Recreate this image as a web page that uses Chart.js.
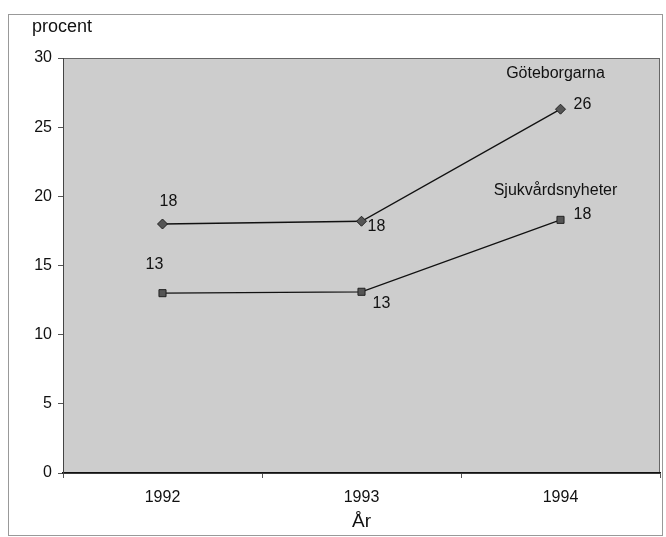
<!DOCTYPE html>
<html><head><meta charset="utf-8">
<script src="https://cdn.jsdelivr.net/npm/chart.js@4/dist/chart.umd.min.js"></script>
<style>html,body{margin:0;padding:0;background:#fff}#w{width:666px;height:537px}</style>
</head><body><div id="w"><canvas id="c" width="666" height="537"></canvas></div>
<script>
const years = ['1992', '1993', '1994'];
const goteborgarna = [18, 18.2, 26.3];
const sjukvard = [13, 13.1, 18.3];
const gotLabels = ['18', '18', '26'];
const sjukLabels = ['13', '13', '18'];
const yTicks = [0, 5, 10, 15, 20, 25, 30];

const F = 'Liberation Sans, Arial, sans-serif';

const deco = {
  id: 'deco',
  beforeDraw(chart) {
    const {ctx, chartArea: a} = chart;
    ctx.save();
    ctx.fillStyle = '#cdcdcd';
    ctx.fillRect(a.left, a.top, a.right - a.left, a.bottom - a.top);
    ctx.strokeStyle = '#666';
    ctx.lineWidth = 1;
    ctx.strokeRect(a.left + 0.5, a.top + 0.5, a.right - a.left - 1, a.bottom - a.top);
    ctx.strokeStyle = '#999';
    ctx.strokeRect(8.5, 14.5, 654, 521);
    ctx.restore();
  },
  afterDatasetsDraw(chart) {
    const {ctx} = chart;
    const x = chart.scales.x, y = chart.scales.y;
    ctx.save();
    ctx.fillStyle = '#111';
    ctx.font = '18px ' + F;
    ctx.textBaseline = 'middle';
    ctx.textAlign = 'left';
    ctx.fillText('procent', 32, 27);
    ctx.font = '16px ' + F;
    ctx.textAlign = 'center';
    const gOff = [[6, -22], [15, 5], [22, -5]];
    goteborgarna.forEach((v, i) => {
      const px = x.getPixelForValue(i), py = y.getPixelForValue(v);
      ctx.fillText(gotLabels[i], px + gOff[i][0], py + gOff[i][1]);
    });
    const sOff = [[-8, -29], [20, 12], [22, -5]];
    sjukvard.forEach((v, i) => {
      const px = x.getPixelForValue(i), py = y.getPixelForValue(v);
      ctx.fillText(sjukLabels[i], px + sOff[i][0], py + sOff[i][1]);
    });
    ctx.fillText('Göteborgarna', x.getPixelForValue(2) - 5, y.getPixelForValue(28.9));
    ctx.fillText('Sjukvårdsnyheter', x.getPixelForValue(2) - 5, y.getPixelForValue(20.4));
    ctx.restore();
  }
};

new Chart(document.getElementById('c'), {
  type: 'line',
  data: {
    labels: years,
    datasets: [
      {label: 'Göteborgarna', data: goteborgarna, borderColor: '#111', borderWidth: 1.3,
       pointStyle: 'rectRot', pointRadius: 5, pointBackgroundColor: '#555', pointBorderColor: '#222', pointBorderWidth: 1},
      {label: 'Sjukvårdsnyheter', data: sjukvard, borderColor: '#111', borderWidth: 1.3,
       pointStyle: 'rect', pointRadius: 5, pointBackgroundColor: '#555', pointBorderColor: '#222', pointBorderWidth: 1}
    ]
  },
  options: {
    responsive: false, animation: false, devicePixelRatio: 1,
    layout: {padding: {top: 58, right: 5, left: 0, bottom: 0}},
    plugins: {legend: {display: false}, tooltip: {enabled: false}},
    scales: {
      x: {
        offset: true,
        grid: {display: true, drawOnChartArea: false, offset: true, tickLength: 5, color: '#555'},
        border: {color: '#111', width: 1.5},
        ticks: {color: '#111', font: {family: F, size: 16}, padding: 10},
        title: {display: true, text: 'År', color: '#111', font: {family: F, size: 19}, padding: {top: 0}},
        afterFit(s) { s.height = 64; }
      },
      y: {
        min: 0, max: 30,
        afterBuildTicks(s) { s.ticks = yTicks.map(v => ({value: v})); },
        grid: {display: true, drawOnChartArea: false, tickLength: 5, color: '#555'},
        border: {color: '#444'},
        ticks: {color: '#111', font: {family: F, size: 16}, padding: 6},
        afterFit(s) { s.width = 63; }
      }
    }
  },
  plugins: [deco]
});
</script></body></html>
